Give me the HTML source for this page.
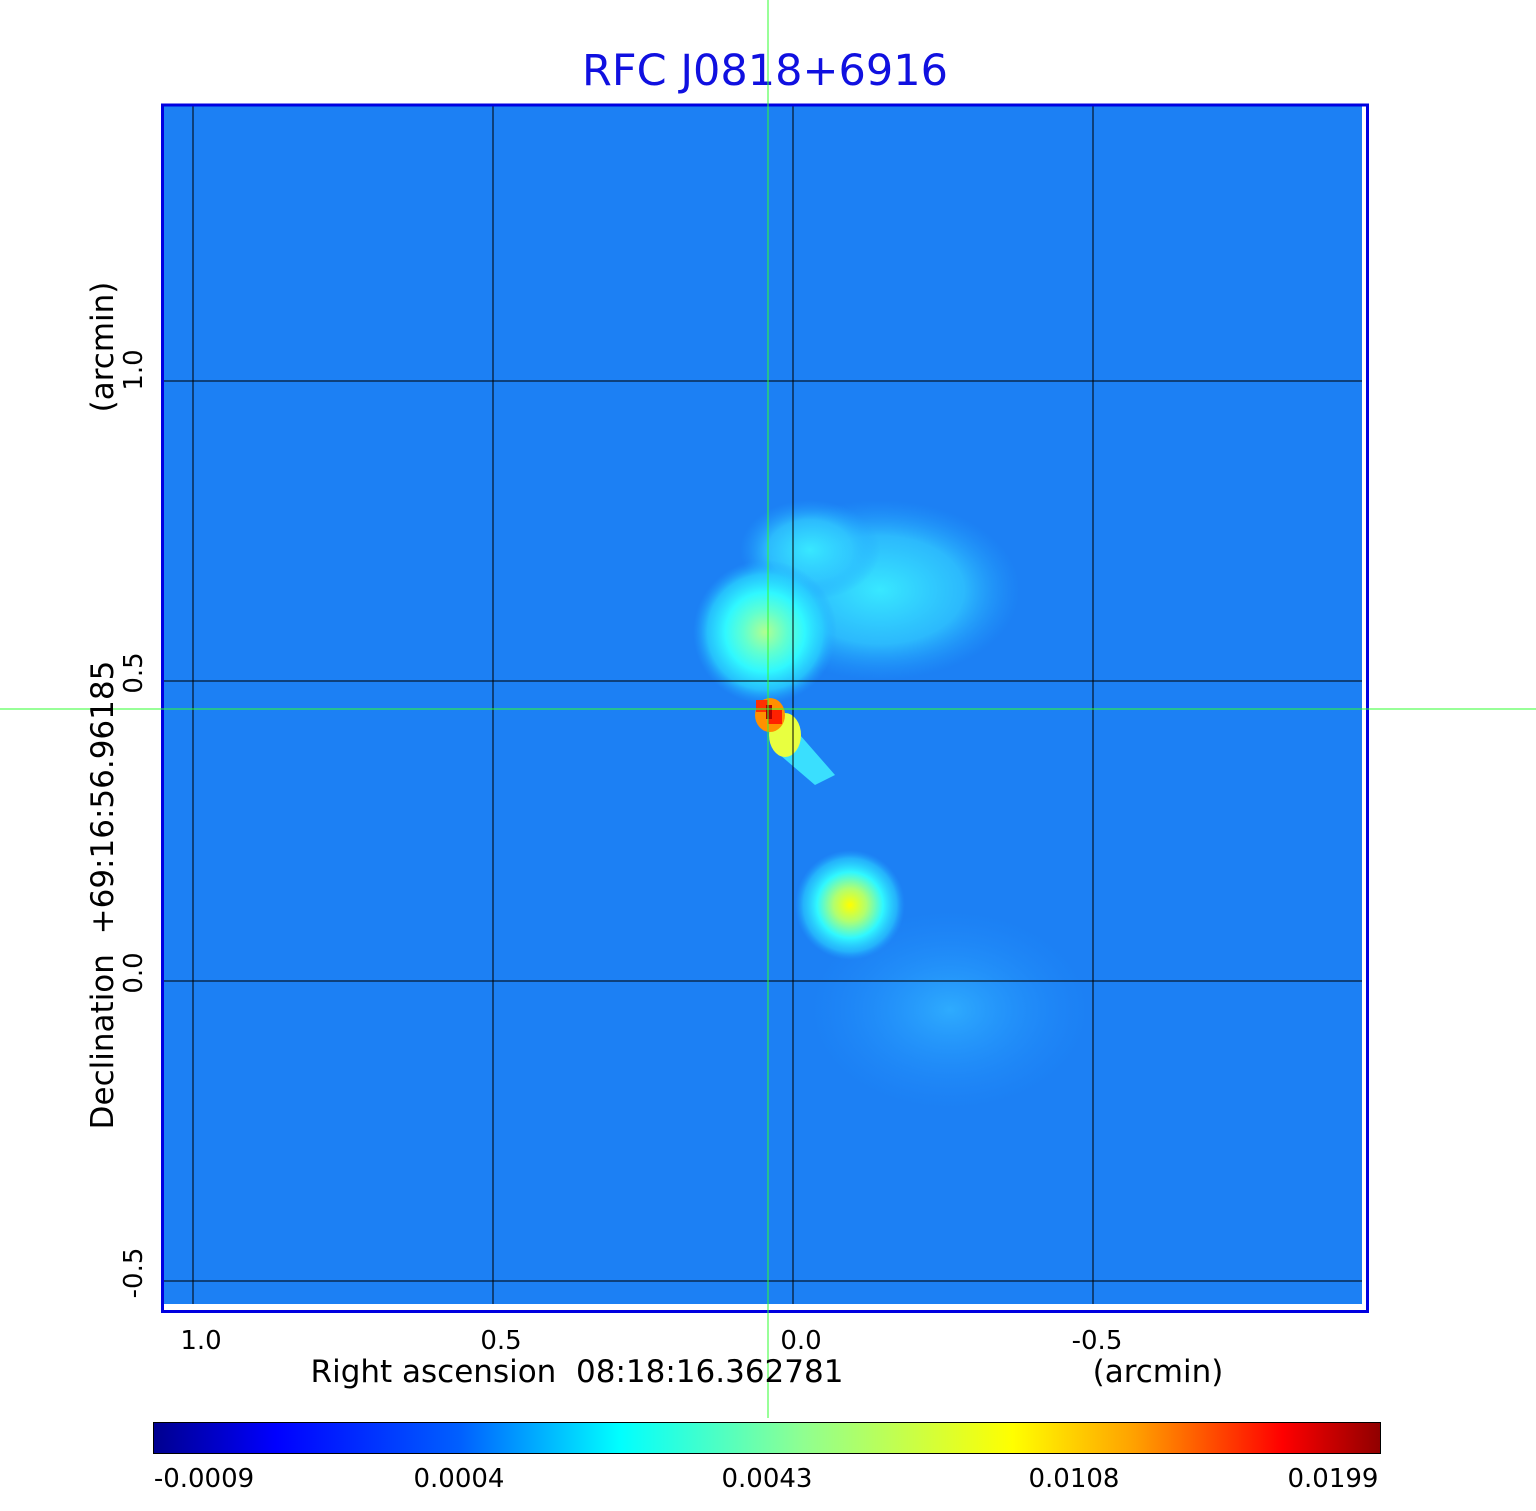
<!DOCTYPE html>
<html><head><meta charset="utf-8"><style>
body{margin:0;background:#fff;}
svg{display:block;font-family:"DejaVu Sans","Liberation Sans",sans-serif;}
text{white-space:pre;}
</style></head><body>
<svg width="1536" height="1511" viewBox="0 0 1536 1511">
<defs>
<radialGradient id="b1"><stop offset="0" stop-color="#b0ff90"/><stop offset="0.3" stop-color="#60ffd0"/><stop offset="0.55" stop-color="#30f8ff"/><stop offset="0.8" stop-color="#28d0ff" stop-opacity="0.8"/><stop offset="1" stop-color="#20a0ff" stop-opacity="0"/></radialGradient>
<radialGradient id="b2"><stop offset="0" stop-color="#38e8ff"/><stop offset="0.6" stop-color="#30c8ff" stop-opacity="0.8"/><stop offset="1" stop-color="#20a0ff" stop-opacity="0"/></radialGradient>
<radialGradient id="b3"><stop offset="0" stop-color="#ffff00"/><stop offset="0.3" stop-color="#b0ff70"/><stop offset="0.6" stop-color="#30f8ff"/><stop offset="0.85" stop-color="#28c8ff" stop-opacity="0.7"/><stop offset="1" stop-color="#20a0ff" stop-opacity="0"/></radialGradient>
<radialGradient id="b4"><stop offset="0" stop-color="#30b0ff" stop-opacity="0.9"/><stop offset="1" stop-color="#2090ff" stop-opacity="0"/></radialGradient>
<linearGradient id="jet" x1="0" x2="1">
<stop offset="0" stop-color="#00008f"/><stop offset="0.1" stop-color="#0000ff"/><stop offset="0.25" stop-color="#0060ff"/><stop offset="0.38" stop-color="#00ffff"/><stop offset="0.53" stop-color="#90ff90"/><stop offset="0.7" stop-color="#ffff00"/><stop offset="0.8" stop-color="#ffa000"/><stop offset="0.92" stop-color="#ff0000"/><stop offset="1" stop-color="#900000"/>
</linearGradient>
</defs>
<text x="765" y="85" font-size="43" fill="#1010e0" text-anchor="middle">RFC J0818+6916</text>
<rect x="163" y="106" width="1204" height="1205" fill="#1c80f4"/>
<ellipse cx="950" cy="1010" rx="140" ry="100" fill="url(#b4)"/>
<ellipse cx="880" cy="590" rx="140" ry="90" fill="url(#b2)"/>
<ellipse cx="810" cy="550" rx="70" ry="50" fill="url(#b2)"/>
<ellipse cx="765" cy="632" rx="72" ry="72" fill="url(#b1)"/>
<ellipse cx="850" cy="905" rx="55" ry="55" fill="url(#b3)"/>
<polygon points="770,725 800,735 835,775 815,785 780,755" fill="#40f0ff" opacity="0.85"/>
<ellipse cx="785" cy="735" rx="16" ry="22" fill="#e8ff40"/>
<ellipse cx="770" cy="715" rx="15" ry="17" fill="#ff9000"/>
<rect x="756" y="700" width="12" height="12" fill="#ff3000"/>
<rect x="768" y="710" width="14" height="14" fill="#ff2000"/>
<rect x="766" y="705" width="6" height="14" fill="#b00000"/>
<g stroke="#000" stroke-width="1" shape-rendering="crispEdges">
<line x1="193" y1="106" x2="193" y2="1311"/><line x1="493" y1="106" x2="493" y2="1311"/><line x1="793" y1="106" x2="793" y2="1311"/><line x1="1093" y1="106" x2="1093" y2="1311"/>
<line x1="163" y1="381" x2="1367" y2="381"/><line x1="163" y1="681" x2="1367" y2="681"/><line x1="163" y1="981" x2="1367" y2="981"/><line x1="163" y1="1281" x2="1367" y2="1281"/>
</g>
<rect x="1362" y="106" width="5" height="1205" fill="#fff"/>
<rect x="163" y="1304" width="1204" height="7" fill="#fff"/>
<rect x="162.5" y="105" width="1205" height="1206.5" fill="none" stroke="#0000e0" stroke-width="3"/>
<g stroke="#30ff30" stroke-width="1" shape-rendering="crispEdges">
<line x1="768" y1="0" x2="768" y2="1418"/>
<line x1="0" y1="709" x2="1536" y2="709"/>
</g>
<g font-size="26" fill="#000" text-anchor="middle">
<text x="201" y="1349">1.0</text><text x="501" y="1349">0.5</text><text x="801" y="1349">0.0</text><text x="1097" y="1349">-0.5</text>
<text x="577" y="1382" font-size="31">Right ascension  08:18:16.362781</text>
<text x="1158" y="1382" font-size="31">(arcmin)</text>
<text transform="translate(142,370) rotate(-90)">1.0</text>
<text transform="translate(142,673) rotate(-90)">0.5</text>
<text transform="translate(142,973) rotate(-90)">0.0</text>
<text transform="translate(142,1273) rotate(-90)">-0.5</text>
<text transform="translate(113,895) rotate(-90)" font-size="31">Declination  +69:16:56.96185</text>
<text transform="translate(113,347) rotate(-90)" font-size="31">(arcmin)</text>
</g>
<rect x="153.5" y="1422.5" width="1227" height="31" fill="url(#jet)" stroke="#000" stroke-width="1"/>
<g font-size="26" fill="#000" text-anchor="middle">
<text x="204" y="1487">-0.0009</text><text x="459" y="1487">0.0004</text><text x="767" y="1487">0.0043</text><text x="1074" y="1487">0.0108</text><text x="1333" y="1487">0.0199</text>
</g>
</svg>
</body></html>
